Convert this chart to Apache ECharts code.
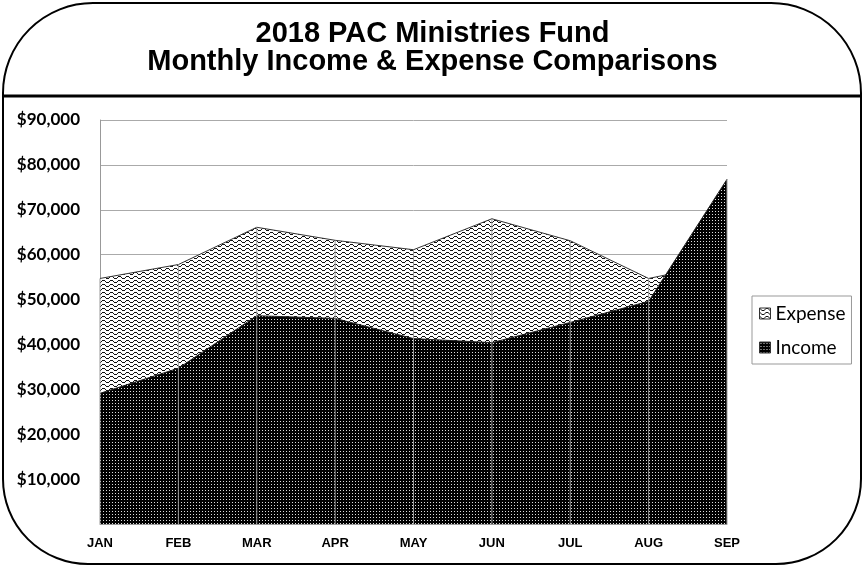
<!DOCTYPE html>
<html>
<head>
<meta charset="utf-8">
<script src="https://cdn.jsdelivr.net/npm/echarts@6/dist/echarts.min.js"></script>
<style>
html,body{margin:0;padding:0;background:#fff;}
#chart{width:865px;height:568px;}
</style>
</head>
<body>
<div id="chart"></div>
<script>
// ---- data ----
const months = ['JAN','FEB','MAR','APR','MAY','JUN','JUL','AUG','SEP'];
const expense = [54700, 57800, 66100, 63200, 61100, 68000, 63100, 54700, 58300];
const income  = [29100, 34700, 46400, 45800, 41300, 40400, 44900, 49600, 76800];

// ---- patterns ----
function makeZigzag(){
  const w = 8, h = 4;
  const c = document.createElement('canvas'); c.width = w; c.height = h;
  const g = c.getContext('2d');
  g.fillStyle = '#fff'; g.fillRect(0,0,w,h);
  g.fillStyle = '#111';
  const ys = [0,1,2,2,2,1,0,0];
  ys.forEach((y,x)=>g.fillRect(x,y,1,1));
  return c;
}
function makeDots(){
  const c = document.createElement('canvas'); c.width = 3; c.height = 3;
  const g = c.getContext('2d');
  g.fillStyle = '#000'; g.fillRect(0,0,3,3);
  g.fillStyle = '#ddd'; g.fillRect(1,1,1,1);
  return c;
}
const zig = {image: makeZigzag(), repeat: 'repeat'};
const dots = {image: makeDots(), repeat: 'repeat'};

const dropTops = months.map((m,i)=>Math.max(expense[i], income[i]));

const chart = echarts.init(document.getElementById('chart'));
chart.setOption({
  animation: false,
  backgroundColor: '#fff',
  graphic: [
    {type:'rect', shape:{x:3,y:3,width:858,height:561,r:[90,90,85,85]},
     style:{fill:'none', stroke:'#000', lineWidth:2}, z:100},
    {type:'line', shape:{x1:3,y1:96,x2:861,y2:96}, style:{stroke:'#000', lineWidth:3}, z:100},
    {type:'text', left:'center', top:19,
     style:{text:'2018 PAC Ministries Fund\nMonthly Income & Expense Comparisons',
            font:'bold 29px "Liberation Sans", Arial, sans-serif', fill:'#000',
            textAlign:'center', lineHeight:28}}
  ],
  grid: {left:100, right:138, top:120, bottom:44},
  legend: {
    orient:'vertical', left:752, top:296,
    data:[
      {name:'Expense', icon:'rect', itemStyle:{color:zig, borderColor:'#333', borderWidth:1}},
      {name:'Income', icon:'rect', itemStyle:{color:dots, borderColor:'#333', borderWidth:1}}
    ],
    itemWidth:11, itemHeight:11, itemGap:15,
    padding:[8,6,7,7],
    borderColor:'#999', borderWidth:1,
    textStyle:{fontFamily:'Lato, "Open Sans", sans-serif', fontSize:19, color:'#000'}
  },
  xAxis: {
    type:'category', data:months, boundaryGap:false,
    axisLine:{show:true, lineStyle:{color:'#999'}},
    axisTick:{show:false},
    axisLabel:{fontFamily:'"Liberation Sans Narrow", "Liberation Sans", sans-serif', fontWeight:'bold', fontSize:13, color:'#000', margin:13},
    splitLine:{show:false}
  },
  yAxis: {
    type:'value', min:0, max:90000, interval:10000,
    axisLine:{show:true, lineStyle:{color:'#999'}},
    axisTick:{show:false},
    axisLabel:{fontFamily:'Lato, "Open Sans", sans-serif', fontWeight:'bold', fontSize:17, color:'#000', margin:20,
      formatter: v => v === 0 ? '' : '$' + v.toLocaleString('en-US')},
    splitLine:{show:true, lineStyle:{color:'#aaa', width:1}}
  },
  series: [
    {name:'Expense', type:'line', data:expense, symbol:'none', z:2,
     lineStyle:{color:'#333', width:1}, itemStyle:{color:zig},
     areaStyle:{color:zig, opacity:1}},
    {name:'Income', type:'line', data:income, symbol:'none', z:3,
     lineStyle:{color:'#222', width:1}, itemStyle:{color:dots},
     areaStyle:{color:dots, opacity:1}},
    {name:'drop', type:'bar', data:dropTops, barWidth:1, z:4,
     itemStyle:{color:'#999'}, silent:true}
  ]
});
</script>
</body>
</html>
